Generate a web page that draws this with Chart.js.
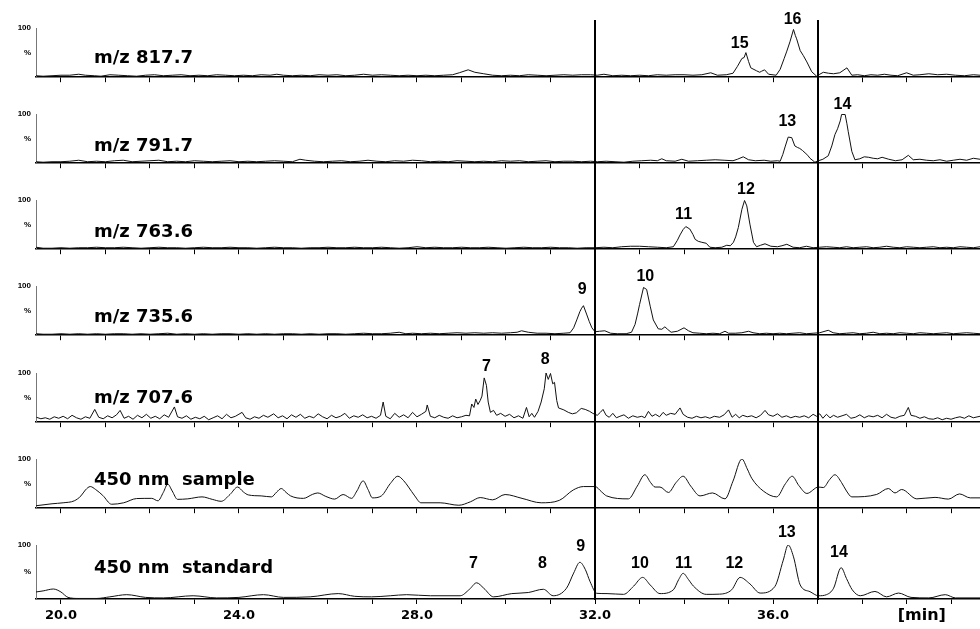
<!DOCTYPE html>
<html>
<head>
<meta charset="utf-8">
<script src="https://cdn.jsdelivr.net/npm/chart.js@4.4.1/dist/chart.umd.min.js"></script>
<style>
  html, body { margin: 0; padding: 0; background: #fff; }
  #stack { position: relative; width: 980px; height: 629px; overflow: hidden; }
  #stack canvas { position: absolute; left: 0; }
</style>
</head>
<body>
<div id="stack"></div>
<script>
// retention time window shown on the x axis [min]
const timeMin = 19.44;
const timeMax = 40.65;
const markerTimes = [32.0, 37.0];
const tickLabelTimes = [20, 24, 28, 32, 36];

const panelNames = ['m/z 817.7', 'm/z 791.7', 'm/z 763.6', 'm/z 735.6', 'm/z 707.6', '450 nm  sample', '450 nm  standard'];

// [time, % intensity]
const mz817 = [[19.44,3],[19.6,2],[19.8,3],[20.0,4],[20.2,4],[20.4,6],[20.55,4],[20.75,3],[20.9,2],[21.1,5],[21.3,4],[21.5,3],[21.7,2],[21.9,4],[22.1,5],[22.3,3],[22.5,4],[22.7,5],[22.9,3],[23.1,4],[23.3,3],[23.5,5],[23.7,4],[23.9,3],[24.1,4],[24.3,3],[24.5,5],[24.7,4],[24.85,6],[25.0,4],[25.2,3],[25.4,4],[25.6,3],[25.8,5],[26.0,4],[26.2,5],[26.4,3],[26.6,4],[26.8,6],[27.0,4],[27.2,5],[27.4,4],[27.6,3],[27.8,4],[28.0,3],[28.2,4],[28.4,3],[28.6,4],[28.8,5],[28.95,9],[29.15,15],[29.3,10],[29.5,7],[29.7,4],[29.9,3],[30.1,4],[30.3,3],[30.5,5],[30.7,4],[30.9,3],[31.1,4],[31.3,5],[31.5,4],[31.7,5],[31.9,5],[32.05,4],[32.2,6],[32.4,3],[32.6,4],[32.8,3],[33.0,4],[33.2,3],[33.4,5],[33.6,4],[33.8,5],[34.0,5],[34.2,4],[34.4,5],[34.6,9],[34.75,4],[34.95,5],[35.1,8],[35.2,22],[35.3,38],[35.35,40],[35.39,50],[35.45,32],[35.5,19],[35.63,13],[35.7,10],[35.74,12],[35.81,15],[35.9,6],[36.07,4],[36.16,16],[36.25,38],[36.31,53],[36.38,72],[36.46,97],[36.5,85],[36.53,78],[36.61,54],[36.68,44],[36.76,31],[36.87,11],[36.98,2],[37.05,6],[37.13,10],[37.25,8],[37.36,7],[37.5,9],[37.66,19],[37.77,4],[37.9,5],[38.05,3],[38.2,5],[38.35,4],[38.5,6],[38.65,4],[38.8,3],[39.0,9],[39.15,4],[39.3,5],[39.5,7],[39.7,5],[39.9,6],[40.1,4],[40.3,3],[40.5,5],[40.65,4]];

const mz791 = [[19.44,3],[19.6,2],[19.8,3],[20.0,3],[20.2,4],[20.4,6],[20.6,3],[20.8,4],[21.0,3],[21.2,5],[21.4,6],[21.6,3],[21.8,4],[22.0,5],[22.2,6],[22.4,3],[22.6,4],[22.8,3],[23.0,5],[23.2,4],[23.4,3],[23.6,4],[23.8,5],[24.0,3],[24.2,4],[24.4,3],[24.6,4],[24.8,5],[25.0,4],[25.2,3],[25.37,8],[25.5,6],[25.7,4],[25.9,3],[26.1,4],[26.3,5],[26.5,3],[26.7,4],[26.9,6],[27.1,4],[27.3,3],[27.5,5],[27.7,4],[27.9,6],[28.1,5],[28.3,3],[28.5,4],[28.7,3],[28.9,5],[29.1,4],[29.3,3],[29.5,4],[29.7,3],[29.9,5],[30.1,4],[30.3,5],[30.5,3],[30.7,4],[30.9,5],[31.1,3],[31.3,4],[31.5,4],[31.7,3],[31.9,4],[32.05,3],[32.25,4],[32.45,3],[32.65,2],[32.85,4],[33.05,5],[33.25,6],[33.4,5],[33.5,9],[33.6,5],[33.8,4],[33.95,8],[34.1,4],[34.3,5],[34.5,6],[34.7,7],[34.9,6],[35.1,5],[35.2,8],[35.33,13],[35.45,7],[35.6,5],[35.8,6],[35.95,4],[36.1,5],[36.16,4],[36.22,18],[36.27,33],[36.34,53],[36.42,52],[36.49,35],[36.55,32],[36.6,30],[36.66,26],[36.72,21],[36.78,16],[36.83,10],[36.94,2],[37.02,5],[37.12,8],[37.24,15],[37.32,35],[37.39,58],[37.45,70],[37.51,86],[37.54,99],[37.62,99],[37.66,80],[37.69,64],[37.77,24],[37.84,7],[37.95,9],[38.05,13],[38.15,12],[38.25,10],[38.35,9],[38.45,12],[38.6,8],[38.75,5],[38.9,7],[39.04,16],[39.15,7],[39.3,8],[39.45,6],[39.6,5],[39.75,7],[39.9,4],[40.05,6],[40.2,8],[40.35,6],[40.5,10],[40.65,8]];

const mz763 = [[19.44,4],[19.6,2],[19.8,2],[20.0,3],[20.2,2],[20.4,3],[20.6,3],[20.8,4],[21.0,3],[21.2,3],[21.4,4],[21.6,3],[21.8,2],[22.0,3],[22.2,4],[22.4,3],[22.6,3],[22.8,2],[23.0,3],[23.2,4],[23.4,3],[23.6,3],[23.8,4],[24.0,3],[24.2,3],[24.4,2],[24.6,3],[24.8,4],[25.0,3],[25.2,3],[25.4,2],[25.6,3],[25.8,3],[26.0,4],[26.2,3],[26.4,3],[26.6,4],[26.8,3],[27.0,3],[27.2,4],[27.4,3],[27.6,2],[27.8,3],[28.0,5],[28.2,3],[28.4,4],[28.6,3],[28.8,3],[29.0,4],[29.2,3],[29.4,3],[29.6,4],[29.8,3],[30.0,2],[30.2,3],[30.4,4],[30.6,3],[30.8,3],[31.0,4],[31.2,3],[31.4,3],[31.6,2],[31.8,3],[32.0,3],[32.2,4],[32.4,3],[32.6,5],[32.8,6],[33.0,6],[33.2,5],[33.4,4],[33.6,3],[33.76,5],[33.85,18],[33.91,29],[33.98,40],[34.04,46],[34.13,41],[34.2,30],[34.25,20],[34.32,16],[34.4,14],[34.5,12],[34.58,4],[34.7,3],[34.85,4],[34.96,8],[35.04,7],[35.11,14],[35.16,25],[35.22,44],[35.3,81],[35.36,99],[35.41,88],[35.48,51],[35.56,14],[35.63,5],[35.72,8],[35.82,11],[35.95,6],[36.1,5],[36.2,7],[36.31,10],[36.45,4],[36.6,3],[36.75,6],[36.9,3],[37.05,4],[37.2,5],[37.35,4],[37.5,3],[37.65,5],[37.8,3],[37.95,4],[38.1,5],[38.25,3],[38.4,4],[38.55,6],[38.7,4],[38.85,3],[39.0,5],[39.15,4],[39.3,3],[39.45,4],[39.6,5],[39.75,3],[39.9,4],[40.05,3],[40.2,5],[40.35,4],[40.5,3],[40.65,5]];

const mz735 = [[19.44,3],[19.6,2],[19.8,2],[20.0,3],[20.2,2],[20.4,3],[20.6,2],[20.8,3],[21.0,2],[21.2,3],[21.4,3],[21.6,2],[21.8,3],[22.0,2],[22.2,3],[22.4,4],[22.6,2],[22.8,3],[23.0,2],[23.2,3],[23.4,2],[23.6,3],[23.8,3],[24.0,2],[24.2,3],[24.4,2],[24.6,3],[24.8,2],[25.0,3],[25.2,3],[25.4,2],[25.6,3],[25.8,2],[26.0,3],[26.2,3],[26.4,2],[26.6,3],[26.8,4],[27.0,3],[27.2,3],[27.4,4],[27.6,6],[27.75,3],[27.9,4],[28.1,3],[28.3,4],[28.5,3],[28.7,4],[28.9,5],[29.1,4],[29.3,5],[29.5,4],[29.7,5],[29.9,4],[30.1,5],[30.25,6],[30.35,9],[30.5,6],[30.7,4],[30.9,4],[31.1,3],[31.3,4],[31.44,5],[31.52,15],[31.59,31],[31.66,48],[31.7,55],[31.74,60],[31.81,43],[31.87,28],[31.93,15],[32.0,7],[32.1,8],[32.22,9],[32.35,4],[32.5,3],[32.7,3],[32.82,6],[32.9,22],[32.96,45],[33.0,62],[33.09,97],[33.16,93],[33.24,59],[33.31,31],[33.42,13],[33.5,12],[33.57,17],[33.63,12],[33.71,6],[33.85,8],[34.0,15],[34.1,9],[34.2,5],[34.35,4],[34.5,3],[34.65,4],[34.8,3],[34.92,8],[35.0,4],[35.15,4],[35.3,5],[35.45,8],[35.55,5],[35.7,3],[35.85,4],[36.0,3],[36.15,4],[36.3,3],[36.45,4],[36.6,5],[36.75,3],[36.9,4],[37.05,5],[37.24,10],[37.35,5],[37.5,3],[37.65,4],[37.8,5],[37.95,3],[38.1,4],[38.25,6],[38.4,3],[38.55,4],[38.7,3],[38.85,5],[39.0,4],[39.15,3],[39.3,5],[39.45,4],[39.6,3],[39.75,4],[39.9,5],[40.05,3],[40.2,4],[40.35,5],[40.5,4],[40.65,3]];

const mz707 = [[19.45,10],[19.55,7],[19.65,9],[19.75,6],[19.85,11],[19.95,8],[20.05,12],[20.15,7],[20.25,14],[20.35,9],[20.45,6],[20.55,11],[20.65,8],[20.76,26],[20.85,10],[20.95,7],[21.05,13],[21.15,9],[21.25,15],[21.33,24],[21.42,8],[21.52,12],[21.62,6],[21.72,14],[21.82,9],[21.92,16],[22.02,8],[22.12,12],[22.22,7],[22.32,15],[22.42,10],[22.55,31],[22.62,11],[22.72,8],[22.82,13],[22.92,6],[23.02,10],[23.12,7],[23.22,12],[23.32,5],[23.42,9],[23.52,13],[23.62,7],[23.72,16],[23.82,9],[23.92,12],[24.07,20],[24.15,9],[24.25,6],[24.35,11],[24.45,8],[24.55,14],[24.65,10],[24.78,17],[24.88,9],[24.98,13],[25.08,7],[25.18,15],[25.28,10],[25.38,16],[25.48,8],[25.58,12],[25.68,9],[25.78,17],[25.88,11],[25.98,7],[26.08,14],[26.18,9],[26.28,12],[26.38,18],[26.48,8],[26.58,13],[26.68,10],[26.78,15],[26.88,9],[26.98,12],[27.08,8],[27.18,14],[27.24,41],[27.3,12],[27.4,7],[27.5,18],[27.6,10],[27.7,15],[27.8,9],[27.9,20],[28.0,11],[28.1,16],[28.2,22],[28.23,35],[28.3,12],[28.4,9],[28.5,14],[28.6,10],[28.7,8],[28.8,13],[28.9,9],[29.0,11],[29.1,14],[29.18,13],[29.23,37],[29.28,30],[29.32,47],[29.37,36],[29.42,44],[29.46,53],[29.51,90],[29.56,75],[29.6,41],[29.65,20],[29.72,24],[29.79,14],[29.88,18],[29.98,12],[30.08,16],[30.18,9],[30.28,13],[30.38,8],[30.46,30],[30.52,11],[30.58,18],[30.64,10],[30.72,22],[30.79,41],[30.86,68],[30.9,100],[30.95,87],[31.0,99],[31.05,78],[31.09,81],[31.14,44],[31.18,29],[31.3,25],[31.4,20],[31.49,17],[31.58,19],[31.69,28],[31.78,26],[31.88,22],[31.95,18],[32.05,14],[32.12,20],[32.18,26],[32.25,14],[32.32,10],[32.4,18],[32.48,9],[32.56,12],[32.65,15],[32.75,8],[32.85,13],[32.95,10],[33.05,12],[33.12,9],[33.2,22],[33.28,12],[33.36,16],[33.45,11],[33.53,20],[33.6,14],[33.7,18],[33.8,16],[33.91,29],[33.98,16],[34.08,10],[34.18,8],[34.28,12],[34.38,9],[34.48,11],[34.58,8],[34.68,12],[34.8,10],[34.9,15],[35.0,25],[35.08,10],[35.16,16],[35.24,9],[35.32,14],[35.42,11],[35.52,13],[35.62,9],[35.72,14],[35.82,24],[35.9,15],[36.0,12],[36.1,17],[36.2,10],[36.3,13],[36.4,9],[36.5,12],[36.6,10],[36.7,13],[36.8,9],[36.9,16],[36.98,12],[37.05,17],[37.12,8],[37.2,16],[37.28,9],[37.36,14],[37.45,10],[37.55,13],[37.65,16],[37.75,8],[37.85,10],[37.95,15],[38.05,9],[38.15,13],[38.25,11],[38.35,14],[38.45,9],[38.55,16],[38.65,10],[38.75,8],[38.85,12],[38.95,14],[39.04,30],[39.1,14],[39.2,12],[39.3,8],[39.4,11],[39.5,7],[39.6,6],[39.7,9],[39.8,5],[39.9,8],[40.0,6],[40.1,9],[40.2,11],[40.3,8],[40.4,13],[40.5,9],[40.65,12]];

const uvSample = [[19.44,5],[19.8,9],[20.05,11],[20.3,15],[20.45,25],[20.55,37],[20.66,44],[20.78,38],[20.94,26],[21.14,8],[21.41,11],[21.7,19.6],[22.04,20],[22.18,15],[22.3,32],[22.4,49],[22.5,35],[22.62,18],[22.85,19],[23.17,23],[23.4,18],[23.6,14],[23.8,28],[23.97,43],[24.1,33],[24.21,27],[24.5,25],[24.73,23],[24.85,33],[24.95,40],[25.06,32],[25.16,25],[25.45,20],[25.65,28],[25.77,31],[25.95,24],[26.15,18.5],[26.34,27.8],[26.53,20],[26.65,35],[26.79,55.6],[26.9,38],[27.0,21],[27.2,25],[27.4,50],[27.57,65],[27.7,56],[27.81,43],[27.95,25],[28.09,11],[28.52,11],[28.94,6],[29.2,13],[29.42,21.6],[29.7,17],[29.98,27.8],[30.36,20],[30.79,11],[31.2,16],[31.51,37],[31.74,44],[32.0,44],[32.15,33],[32.26,25],[32.75,19],[32.95,45],[33.12,68],[33.25,52],[33.35,43],[33.46,43],[33.65,32],[33.82,52],[33.98,65],[34.15,45],[34.36,25],[34.64,31],[34.92,19],[35.1,55],[35.3,100],[35.42,80],[35.52,61],[35.78,35],[36.08,23],[36.28,50],[36.43,65],[36.58,46],[36.76,30],[37.02,43],[37.13,42],[37.27,58],[37.39,68],[37.54,52],[37.65,35],[37.77,23],[38.33,28],[38.59,40],[38.74,31],[38.89,38],[39.23,19],[39.64,22],[39.94,18.5],[40.19,29],[40.43,21],[40.65,21]];

const uvStandard = [[19.44,13],[19.6,15],[19.83,18.5],[20.0,13],[20.16,3],[20.4,1],[20.8,1],[21.1,4],[21.48,8],[21.9,3],[22.3,2],[22.97,6],[23.5,2],[24.0,3],[24.55,8],[25.0,3],[25.6,4],[26.23,10],[26.6,5],[26.98,4],[27.4,6],[27.77,8],[28.3,6],[28.97,6],[29.18,18],[29.34,30],[29.5,20],[29.72,4],[30.13,10],[30.5,12],[30.84,18],[31.06,6],[31.36,20],[31.52,48],[31.66,68],[31.78,55],[31.89,32],[32.04,10.5],[32.27,10],[32.64,8.6],[32.87,24],[33.07,40],[33.24,26],[33.46,10],[33.76,17],[33.88,36],[33.98,47.5],[34.1,36],[34.21,24],[34.5,8.6],[34.8,9],[35.07,17],[35.26,40],[35.48,28],[35.71,11],[36.04,23],[36.23,72],[36.34,100],[36.46,78],[36.61,26],[36.83,13.6],[37.02,6],[37.2,8],[37.36,20],[37.53,58],[37.65,38],[37.78,17],[37.96,6],[38.29,14],[38.55,4],[38.82,11],[39.1,3],[39.5,2],[39.87,8],[40.1,2],[40.65,2]];

const traces = [mz817, mz791, mz763, mz735, mz707, uvSample, uvStandard];

// peak numbers: [panel, label, time, height in %]
const peakTags = [
  [0,'15',35.25,59],[0,'16',36.44,109],
  [1,'13',36.32,76.5],[1,'14',37.56,110.5],
  [2,'11',33.99,61.7],[2,'12',35.39,112],
  [3,'9',31.71,83],[3,'10',33.13,111],
  [4,'7',29.56,104],[4,'8',30.88,118],
  [6,'7',29.27,57],[6,'8',30.82,57],[6,'9',31.68,89.5],[6,'10',33.01,57],
  [6,'11',33.99,57],[6,'12',35.13,57],[6,'13',36.31,115],[6,'14',37.48,78]
];

// page layout
const baselines = [82, 168, 254, 340, 427, 513, 599];
const nameLift = [19, 17, 17.5, 18, 24, 28, 26];
const plotBottom = 82;
const stack = document.getElementById('stack');

traces.forEach((trace, i) => {
  const last = i === traces.length - 1;
  const smooth = i >= 5;
  const top = baselines[i] - plotBottom;
  const h = last ? 629 - top : 87;

  const canvas = document.createElement('canvas');
  canvas.width = 980;
  canvas.height = h;
  canvas.style.top = top + 'px';
  stack.appendChild(canvas);

  const decor = {
    id: 'decor',
    afterDatasetsDraw(chart) {
      const { ctx, scales: { x, y } } = chart;
      ctx.save();
      // retention windows
      ctx.strokeStyle = '#000';
      ctx.lineWidth = 2;
      markerTimes.forEach(t => {
        const px = Math.round(x.getPixelForValue(t));
        ctx.beginPath();
        ctx.moveTo(px, i === 0 ? 20 : 0);
        ctx.lineTo(px, last ? plotBottom + 1 : h);
        ctx.stroke();
      });
      // trace name
      ctx.fillStyle = '#000';
      ctx.font = 'bold 18px "DejaVu Sans"';
      ctx.textAlign = 'left';
      ctx.textBaseline = 'alphabetic';
      ctx.fillText(panelNames[i], 94, plotBottom - nameLift[i]);
      // peak numbers
      ctx.font = 'bold 16px "Liberation Sans"';
      ctx.textAlign = 'center';
      peakTags.filter(p => p[0] === i).forEach(([, txt, t, v]) => {
        ctx.fillText(txt, x.getPixelForValue(t), y.getPixelForValue(v));
      });
      if (last) {
        ctx.font = 'bold 16px "DejaVu Sans"';
        ctx.textAlign = 'left';
        ctx.fillText('[min]', x.getPixelForValue(38.8), 103);
      }
      ctx.restore();
    }
  };

  new Chart(canvas, {
    type: 'line',
    data: {
      datasets: [{
        data: trace.map(([t, v]) => ({ x: t, y: v })),
        borderColor: '#111',
        borderWidth: 1,
        pointRadius: 0,
        fill: false,
        tension: 0,
        cubicInterpolationMode: smooth ? 'monotone' : 'default'
      }]
    },
    options: {
      responsive: false,
      animation: false,
      devicePixelRatio: 1,
      layout: { padding: { top: 28, left: 0, right: 0, bottom: 0 } },
      plugins: { legend: { display: false }, tooltip: { enabled: false } },
      scales: {
        x: {
          type: 'linear',
          min: timeMin,
          max: timeMax,
          afterFit: s => { s.height = h - plotBottom; },
          border: { color: '#000', width: 1.5 },
          grid: { drawOnChartArea: false, drawTicks: true, tickLength: 5, color: '#000', lineWidth: 1 },
          ticks: {
            display: last,
            stepSize: 1,
            includeBounds: false,
            autoSkip: false,
            maxRotation: 0,
            padding: 4,
            color: '#000',
            font: { family: 'DejaVu Sans', weight: 'bold', size: 13 },
            callback: v => tickLabelTimes.includes(v) ? v.toFixed(1) : ''
          }
        },
        y: {
          min: 0,
          max: 100,
          afterFit: s => { s.width = 36; },
          border: { color: '#777', width: 1 },
          grid: { drawOnChartArea: false, drawTicks: false },
          ticks: {
            stepSize: 50,
            padding: 5,
            color: '#000',
            font: { family: 'Liberation Sans', weight: 'bold', size: 8 },
            callback: v => v === 100 ? '100' : v === 50 ? '%' : ''
          }
        }
      }
    },
    plugins: [decor]
  });
});
</script>
</body>
</html>
